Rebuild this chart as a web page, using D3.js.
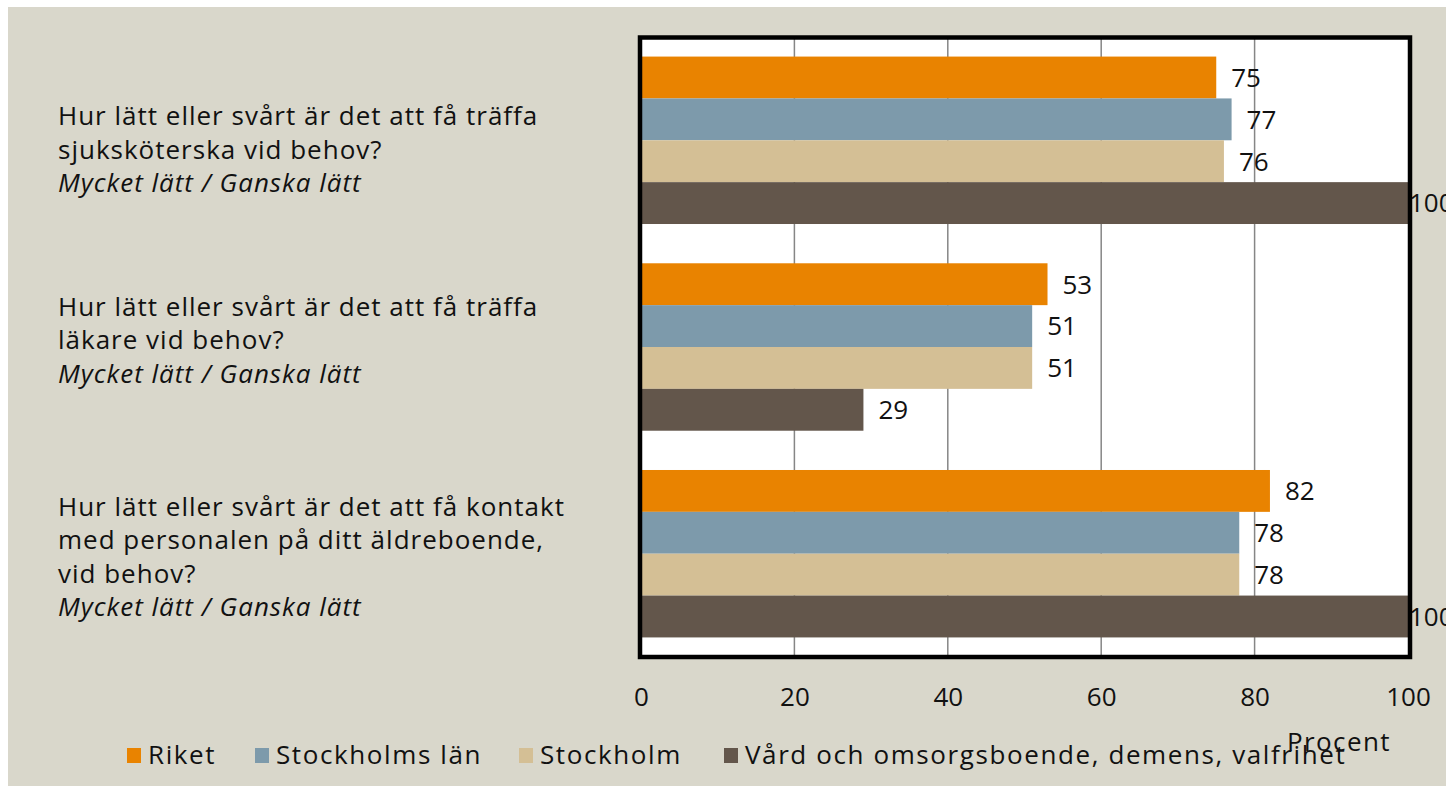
<!DOCTYPE html>
<html><head><meta charset="utf-8">
<script src="https://cdn.jsdelivr.net/npm/d3@7"></script>
<style>
html,body{margin:0;padding:0;background:#fff;}
svg{display:block;}
</style></head>
<body>
<svg id="chart" width="1446" height="787"></svg>
<script>
const categories = [
  ["Hur lätt eller svårt är det att få träffa", "sjuksköterska vid behov?", "*Mycket lätt / Ganska lätt"],
  ["Hur lätt eller svårt är det att få träffa", "läkare vid behov?", "*Mycket lätt / Ganska lätt"],
  ["Hur lätt eller svårt är det att få kontakt", "med personalen på ditt äldreboende,", "vid behov?", "*Mycket lätt / Ganska lätt"]
];
const categoryIds = ["sjukskoterska", "lakare", "kontakt"];
const seriesNames = ["Riket", "Stockholms län", "Stockholm", "Vård och omsorgsboende, demens, valfrihet"];
const seriesColors = ["#E98300", "#7D9AAB", "#D4BF95", "#63564B"];
const riket = [75, 53, 82];
const stockholmsLan = [77, 51, 78];
const stockholm = [76, 51, 78];
const vardboende = [100, 29, 100];
const xTicks = [0, 20, 40, 60, 80, 100];
const axisTitle = "Procent";

const seriesValues = [riket, stockholmsLan, stockholm, vardboende];

const svg = d3.select("#chart");
const W = 1446, H = 787;
const font = "'Open Sans', 'DejaVu Sans', sans-serif";

// background panel
svg.append("rect").attr("x", 8).attr("y", 7).attr("width", W - 8).attr("height", 779).attr("fill", "#D9D7CB");

const plot = {left: 640, right: 1410, top: 37.5, bottom: 657};
const x = d3.scaleLinear().domain([0, 100]).range([641, 1408]);
const y = d3.scaleBand().domain(categoryIds).range([39, 655]).paddingInner(0.19).paddingOuter(0.085);
const ys = d3.scaleBand().domain(d3.range(seriesNames.length)).range([0, y.bandwidth()]);

// plot background
svg.append("rect").attr("x", plot.left).attr("y", plot.top)
  .attr("width", plot.right - plot.left).attr("height", plot.bottom - plot.top).attr("fill", "#fff");

// gridlines
svg.append("g").selectAll("line").data(xTicks.filter(t => t > 0 && t < 100)).join("line")
  .attr("x1", d => x(d)).attr("x2", d => x(d)).attr("y1", plot.top).attr("y2", plot.bottom)
  .attr("stroke", "#868686").attr("stroke-width", 1.5);

// bars
const groups = svg.append("g").selectAll("g").data(categoryIds).join("g")
  .attr("transform", d => `translate(0,${y(d)})`);
groups.each(function(cid, ci) {
  const g = d3.select(this);
  seriesValues.forEach((vals, si) => {
    g.append("rect").attr("x", x(0)).attr("y", ys(si))
      .attr("width", x(vals[ci]) - x(0)).attr("height", ys.bandwidth())
      .attr("fill", seriesColors[si]);
  });
});

// border
svg.append("rect").attr("x", plot.left).attr("y", plot.top)
  .attr("width", plot.right - plot.left).attr("height", plot.bottom - plot.top)
  .attr("fill", "none").attr("stroke", "#000").attr("stroke-width", 4.5);

// value labels
groups.each(function(cid, ci) {
  const g = d3.select(this);
  seriesValues.forEach((vals, si) => {
    const v = vals[ci];
    g.append("text")
      .attr("x", Math.min(x(v) + 15, x(100) + 1))
      .attr("y", ys(si) + ys.bandwidth() / 2)
      .attr("dy", "0.36em")
      .attr("font-family", font).attr("font-size", 26).attr("fill", "#111")
      .text(v);
  });
});

// x axis
const xAxis = d3.axisBottom(x).tickValues(xTicks).tickSize(0).tickPadding(0);
const ax = svg.append("g").attr("transform", `translate(0,697)`).call(xAxis);
ax.select(".domain").remove();
ax.selectAll("text").attr("font-family", font).attr("font-size", 26).attr("fill", "#111")
  .attr("dy", "0.36em");

// category labels
svg.append("g").selectAll("g").data(categoryIds).join("g").each(function(cid, ci) {
  const lines = categories[ci];
  const lh = 33.5;
  const offsets = [9, -7, 3];
  const cy = y(cid) + y.bandwidth() / 2 + offsets[ci];
  const t0 = cy - (lines.length - 1) * lh / 2;
  const t = d3.select(this).append("text").attr("font-family", font).attr("font-size", 26)
    .attr("letter-spacing", 1).attr("fill", "#111");
  lines.forEach((ln, i) => {
    const it = ln.startsWith("*");
    t.append("tspan").attr("x", 58).attr("y", t0 + i * lh).attr("dy", "0.36em")
      .attr("font-style", it ? "italic" : "normal")
      .text(it ? ln.slice(1) : ln);
  });
});

// legend
const legendX = [127, 255, 519, 724];
const lg = svg.append("g").selectAll("g").data(seriesNames).join("g")
  .attr("transform", (d, i) => `translate(${legendX[i]},755)`);
lg.append("rect").attr("x", 0).attr("y", -7).attr("width", 14).attr("height", 15).attr("fill", (d, i) => seriesColors[i]);
lg.append("text").attr("x", 21).attr("y", 0).attr("dy", "0.36em")
  .attr("font-family", font).attr("font-size", 26).attr("letter-spacing", 1.6)
  .attr("fill", "#111").text(d => d);

// axis title
svg.append("text").attr("x", 1287).attr("y", 742).attr("dy", "0.36em")
  .attr("font-family", font).attr("font-size", 26).attr("letter-spacing", 1.4)
  .attr("fill", "#111").text(axisTitle);
</script>
</body></html>
